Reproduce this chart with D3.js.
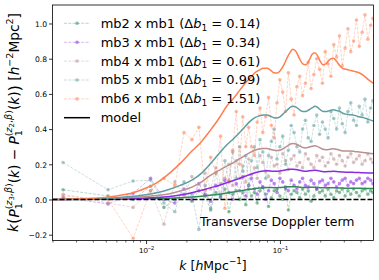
<!DOCTYPE html>
<html><head><meta charset="utf-8">
<script src="https://cdn.jsdelivr.net/npm/d3@7"></script>
<style>
body{margin:0;background:#fff;}
svg{display:block;font-family:"DejaVu Sans",sans-serif;}
</style></head><body>
<svg id="c" width="379" height="280"></svg>
<script>
// ---------- data ----------
const kBins = [0.0024,0.0052,0.0080,0.0108,0.0136,0.0164,0.0192,0.0220,0.0248,0.0276,
  0.0304,0.0332,0.0360,0.0388,0.0416,0.0444,0.0472,0.0500,0.0528,0.0556,
  0.0584,0.0613,0.0644,0.0676,0.0710,0.0745,0.0783,0.0822,0.0863,0.0906,
  0.0951,0.0999,0.1049,0.1101,0.1156,0.1214,0.1275,0.1339,0.1406,0.1476,
  0.1550,0.1627,0.1709,0.1794,0.1884,0.1978,0.2077,0.2181,0.2290,0.2404,
  0.2524,0.2651,0.2783,0.2922,0.3069,0.3222,0.3383,0.3552,0.3730,0.3917,
  0.4112,0.4318,0.4534,0.4760,0.4950];

const mb2 = [0.055,0.02,0.0,0.075,-0.045,0.0,0.03,-0.01,0.05,0.02,
  -0.06,0.04,0.01,0.06,-0.07,0.03,0.05,0.0,0.04,-0.03,
  0.06,0.02,0.04,-0.02,0.05,0.07,0.03,-0.04,0.01,0.05,
  0.06,0.02,0.0,0.06,-0.06,0.03,0.05,0.04,0.01,0.06,
  0.03,0.05,-0.01,0.02,0.06,0.04,0.05,0.02,0.06,0.03,
  0.01,0.05,0.04,0.06,0.02,0.05,0.03,0.06,0.04,0.02,
  0.05,0.06,0.03,0.05,0.04];
const mb3 = [0.01,-0.025,0.035,0.12,0.0,-0.02,0.06,0.0,0.09,0.03,
  -0.01,0.08,0.02,0.11,0.04,0.0,0.09,0.05,0.13,0.02,
  0.08,0.12,0.06,0.03,0.10,0.07,0.0,0.05,0.11,0.09,
  0.04,0.12,0.10,0.07,0.05,0.11,0.08,0.06,0.10,0.12,
  0.08,0.07,0.11,0.09,0.06,0.10,0.11,0.08,0.09,0.12,
  0.10,0.07,0.09,0.11,0.12,0.08,0.10,0.09,0.11,0.12,
  0.09,0.10,0.12,0.11,0.09];
const mb4 = [0.03,-0.02,-0.045,0.05,-0.14,0.10,0.02,0.13,0.05,0.15,
  0.06,0.18,0.09,0.12,0.20,0.08,0.22,0.12,0.19,0.10,
  0.23,0.14,0.18,0.12,0.25,0.21,0.16,0.13,0.24,0.19,
  0.20,0.15,0.26,0.22,0.17,0.23,0.25,0.19,0.21,0.18,
  0.26,0.23,0.20,0.18,0.25,0.22,0.24,0.19,0.21,0.26,
  0.23,0.20,0.25,0.22,0.19,0.24,0.26,0.21,0.23,0.25,
  0.20,0.22,0.26,0.23,0.21];
const mb5 = [0.21,0.055,0.105,0.11,-0.02,-0.07,0.10,0.03,-0.17,0.08,
  -0.05,0.15,0.02,0.22,0.10,0.27,0.12,0.30,0.16,0.25,
  0.08,0.22,0.30,0.18,0.34,0.27,0.12,0.25,0.33,0.40,
  0.23,0.30,0.36,0.20,0.28,0.42,0.38,0.30,0.27,0.40,
  0.45,0.35,0.33,0.42,0.48,0.37,0.44,0.40,0.35,0.50,
  0.46,0.40,0.52,0.43,0.38,0.50,0.55,0.45,0.42,0.53,
  0.48,0.57,0.44,0.52,0.56];
const mb6 = [0.02,0.0,-0.22,0.05,0.12,0.08,0.38,0.34,0.41,0.05,
  0.24,0.15,0.36,-0.05,0.11,0.28,0.50,0.20,0.47,0.30,
  0.41,0.30,0.25,0.44,0.52,0.38,0.47,0.58,0.42,0.35,
  0.55,0.68,0.61,0.50,0.72,0.57,0.48,0.64,0.70,0.59,
  0.66,0.78,0.63,0.71,0.80,0.74,0.66,0.84,0.77,0.70,
  0.88,0.81,0.93,0.76,0.86,0.97,0.84,0.90,1.02,0.87,
  0.95,1.05,0.91,0.99,1.03];

const kModel = [0.002,0.003,0.004,0.005,0.006,0.008,0.01,0.012,0.015,0.018,
  0.022,0.026,0.03,0.035,0.04,0.045,0.05,0.055,0.06,0.065,
  0.07,0.075,0.08,0.085,0.09,0.095,0.10,0.107,0.114,0.12,
  0.125,0.132,0.14,0.148,0.156,0.165,0.174,0.182,0.19,0.20,
  0.21,0.22,0.235,0.25,0.265,0.28,0.295,0.31,0.33,0.36,
  0.39,0.42,0.46,0.50];
const model2 = [0,0,0.001,0.001,0.002,0.003,0.004,0.005,0.007,0.010,
  0.014,0.019,0.024,0.030,0.037,0.043,0.049,0.054,0.058,0.062,
  0.065,0.067,0.068,0.068,0.067,0.067,0.068,0.070,0.072,0.073,
  0.073,0.072,0.070,0.068,0.068,0.069,0.070,0.070,0.069,0.067,
  0.066,0.066,0.066,0.067,0.066,0.065,0.065,0.064,0.064,0.064,
  0.064,0.063,0.063,0.063];
const model3 = [0,0.001,0.002,0.003,0.004,0.006,0.008,0.011,0.017,0.025,
  0.038,0.052,0.066,0.080,0.095,0.108,0.120,0.132,0.142,0.152,
  0.158,0.162,0.163,0.162,0.160,0.160,0.162,0.166,0.170,0.172,
  0.172,0.170,0.166,0.162,0.161,0.163,0.165,0.166,0.165,0.161,
  0.158,0.158,0.159,0.160,0.159,0.157,0.156,0.155,0.155,0.154,
  0.153,0.152,0.151,0.150];
const model4 = [0,0.001,0.003,0.005,0.007,0.012,0.017,0.023,0.033,0.048,
  0.070,0.100,0.135,0.165,0.190,0.210,0.232,0.250,0.268,0.280,
  0.287,0.290,0.290,0.285,0.280,0.278,0.280,0.290,0.305,0.315,
  0.318,0.315,0.305,0.295,0.293,0.298,0.303,0.305,0.302,0.293,
  0.285,0.283,0.285,0.288,0.285,0.280,0.276,0.275,0.275,0.273,
  0.270,0.267,0.263,0.260];
const model5 = [0,0.002,0.004,0.007,0.010,0.018,0.027,0.038,0.058,0.080,
  0.110,0.150,0.200,0.260,0.310,0.345,0.380,0.415,0.445,0.465,
  0.475,0.480,0.480,0.473,0.465,0.463,0.470,0.490,0.510,0.525,
  0.530,0.525,0.510,0.500,0.500,0.510,0.520,0.530,0.525,0.510,
  0.500,0.500,0.505,0.510,0.505,0.500,0.490,0.485,0.482,0.478,
  0.470,0.465,0.455,0.445];
const model6 = [0,0.003,0.007,0.012,0.020,0.038,0.065,0.095,0.150,0.205,
  0.275,0.330,0.390,0.460,0.530,0.575,0.620,0.660,0.690,0.720,
  0.735,0.745,0.745,0.735,0.720,0.718,0.730,0.765,0.810,0.840,
  0.853,0.840,0.800,0.770,0.765,0.790,0.825,0.834,0.820,0.785,
  0.765,0.770,0.795,0.802,0.785,0.760,0.745,0.740,0.735,0.728,
  0.720,0.705,0.680,0.660];

const seriesNames = ["mb2 x mb1","mb3 x mb1","mb4 x mb1","mb5 x mb1","mb6 x mb1"];
const deltaB1 = ["0.14","0.34","0.61","0.99","1.51"];
const colors = ["#2e8b57","#8a2be2","#bc8f8f","#5f9ea0","#ff7f50"];
const dataSeries = [mb2,mb3,mb4,mb5,mb6];
const modelSeries = [model2,model3,model4,model5,model6];
const yTicks = [-0.2,0.0,0.2,0.4,0.6,0.8,1.0];
const xMajor = [0.01,0.1];
const xMinor = [0.002,0.003,0.004,0.005,0.006,0.007,0.008,0.009,
  0.02,0.03,0.04,0.05,0.06,0.07,0.08,0.09,0.2,0.3,0.4];

// ---------- layout ----------
const m = {l:52.5, r:373.5, t:5, b:240.5};
const svg = d3.select("#c");
const x = d3.scaleLog().domain([0.002,0.5]).range([m.l,m.r]);
const y = d3.scaleLinear().domain([-0.233,1.105]).range([m.b,m.t]);

svg.append("defs").append("clipPath").attr("id","clip")
  .append("rect").attr("x",m.l).attr("y",m.t).attr("width",m.r-m.l).attr("height",m.b-m.t);

const plot = svg.append("g").attr("clip-path","url(#clip)");

// data series
dataSeries.forEach((vals,i)=>{
  const pts = kBins.map((k,j)=>({k, v: vals[j]}));
  plot.append("path").datum(pts)
    .attr("d", d3.line().x(d=>x(d.k)).y(d=>y(d.v)))
    .attr("fill","none").attr("stroke",colors[i]).attr("stroke-width",0.8)
    .attr("stroke-dasharray","3,1.3").attr("opacity",0.42);
  plot.append("g").selectAll("circle").data(pts).join("circle")
    .attr("cx",d=>x(d.k)).attr("cy",d=>y(d.v)).attr("r",1.8)
    .attr("fill",colors[i]).attr("opacity",0.55);
});
// models
modelSeries.forEach((vals,i)=>{
  const pts = kModel.map((k,j)=>({k, v: vals[j]}));
  plot.append("path").datum(pts)
    .attr("d", d3.line().x(d=>x(d.k)).y(d=>y(d.v)).curve(d3.curveMonotoneX))
    .attr("fill","none").attr("stroke",colors[i]).attr("stroke-width",1.5);
});
// zero line
plot.append("line").attr("x1",m.l).attr("x2",m.r).attr("y1",y(0)).attr("y2",y(0))
  .attr("stroke","#000").attr("stroke-width",1.3).attr("stroke-dasharray","5,2");

// ---------- axes ----------
const yAx = svg.append("g").attr("transform",`translate(${m.l},0)`)
  .call(d3.axisLeft(y).tickValues(yTicks).tickSize(3.5).tickPadding(2).tickFormat(d3.format(".1f")));
yAx.select(".domain").remove();
yAx.selectAll("text").attr("font-size",7.6).attr("font-family","DejaVu Sans").attr("dy","0.36em").attr("fill","#000");
yAx.selectAll("line").attr("stroke","#000").attr("stroke-width",0.8);

const xMin = svg.append("g").attr("transform",`translate(0,${m.b})`)
  .call(d3.axisBottom(x).tickValues(xMinor).tickSize(2).tickFormat(""));
xMin.select(".domain").remove();
xMin.selectAll("line").attr("stroke","#000").attr("stroke-width",0.6);

const xAx = svg.append("g").attr("transform",`translate(0,${m.b})`)
  .call(d3.axisBottom(x).tickValues(xMajor).tickSize(3.5).tickFormat(""));
xAx.select(".domain").remove();
xAx.selectAll("line").attr("stroke","#000").attr("stroke-width",0.8);
xAx.selectAll(".tick").append("text")
  .attr("y",12.5).attr("text-anchor","middle").attr("font-size",7.9).attr("fill","#000")
  .each(function(d){
    const t = d3.select(this);
    const e = Math.round(Math.log10(d));
    t.append("tspan").text("10");
    t.append("tspan").attr("font-size",5.6).attr("dy",-3.2).text("\u2212"+Math.abs(e));
  });

// frame
svg.append("rect").attr("x",m.l).attr("y",m.t).attr("width",m.r-m.l).attr("height",m.b-m.t)
  .attr("fill","none").attr("stroke","#000").attr("stroke-width",0.8);

// ---------- labels ----------
const F = 12.5;
// x label
const xl = svg.append("text").attr("x",(m.l+m.r)/2).attr("y",269.5)
  .attr("text-anchor","middle").attr("font-size",F).attr("fill","#000");
xl.append("tspan").attr("font-style","italic").text("k");
xl.append("tspan").text(" [");
xl.append("tspan").attr("font-style","italic").text("h");
xl.append("tspan").text("Mpc");
xl.append("tspan").attr("font-size",F*0.7).attr("dy",-F*0.42).text("\u22121");
xl.append("tspan").attr("dy",F*0.42).text("]");

// y label
const FY = 13.7;
const yl = svg.append("text").attr("transform","translate(17.5,122.5) rotate(-90)")
  .attr("text-anchor","middle").attr("font-size",FY).attr("fill","#000");
function subsup(parent, zlabel){
  const s = FY*0.7;
  parent.append("tspan").attr("font-style","italic").text("P");
  parent.append("tspan").attr("font-size",s).attr("dy",FY*0.25).text("1");
  parent.append("tspan").attr("font-size",s).attr("dx",-0.636*s).attr("dy",-FY*0.72).text("(");
  parent.append("tspan").attr("font-size",s).attr("font-style","italic").text("z");
  parent.append("tspan").attr("font-size",FY*0.5).attr("dy",FY*0.15).text(zlabel);
  parent.append("tspan").attr("font-size",s).attr("dy",-FY*0.15).text(",");
  parent.append("tspan").attr("font-size",s).attr("font-style","italic").text("\u03b2");
  parent.append("tspan").attr("font-size",s).text(")");
  parent.append("tspan").attr("dy",FY*0.47).text("(");
  parent.append("tspan").attr("font-style","italic").text("k");
  parent.append("tspan").text(")");
}
yl.append("tspan").attr("font-style","italic").text("k");
yl.append("tspan").attr("font-size",FY*1.2).attr("dy",FY*0.08).text("(");
yl.append("tspan").attr("dy",-FY*0.08).text("");
subsup(yl,"3");
yl.append("tspan").text(" \u2212 ");
subsup(yl,"2");
yl.append("tspan").attr("font-size",FY*1.2).attr("dy",FY*0.08).text(")");
yl.append("tspan").attr("dy",-FY*0.08).text(" [");
yl.append("tspan").attr("font-style","italic").text("h");
yl.append("tspan").attr("font-size",FY*0.7).attr("dy",-FY*0.42).text("\u22122");
yl.append("tspan").attr("dy",FY*0.42).text("Mpc");
yl.append("tspan").attr("font-size",FY*0.7).attr("dy",-FY*0.42).text("2");
yl.append("tspan").attr("dy",FY*0.42).text("]");

// annotation
svg.append("text").attr("x",200).attr("y",226).attr("font-size",F).attr("fill","#000")
  .text("Transverse Doppler term");

// ---------- legend ----------
const FL = 13;
const rows = [23.3,42.3,61.1,80,98.9,117.7];
const lg = svg.append("g");
seriesNames.forEach((name,i)=>{
  const cy = rows[i];
  lg.append("line").attr("x1",64).attr("x2",90).attr("y1",cy).attr("y2",cy)
    .attr("stroke",colors[i]).attr("stroke-width",0.8).attr("stroke-dasharray","3,1.3").attr("opacity",0.42);
  lg.append("circle").attr("cx",77).attr("cy",cy).attr("r",1.8).attr("fill",colors[i]).attr("opacity",0.55);
  const t = lg.append("text").attr("x",100.7).attr("y",cy+4.4).attr("font-size",FL).attr("fill","#000");
  t.append("tspan").text(name+" (\u0394");
  t.append("tspan").attr("font-style","italic").text("b");
  t.append("tspan").attr("font-size",FL*0.7).attr("dy",FL*0.22).text("1");
  t.append("tspan").attr("dy",-FL*0.22).text(" = "+deltaB1[i]+")");
});
lg.append("line").attr("x1",64).attr("x2",90).attr("y1",rows[5]).attr("y2",rows[5])
  .attr("stroke","#000").attr("stroke-width",1.5);
lg.append("text").attr("x",100.7).attr("y",rows[5]+4.4).attr("font-size",FL).attr("fill","#000").text("model");
</script>
</body></html>
